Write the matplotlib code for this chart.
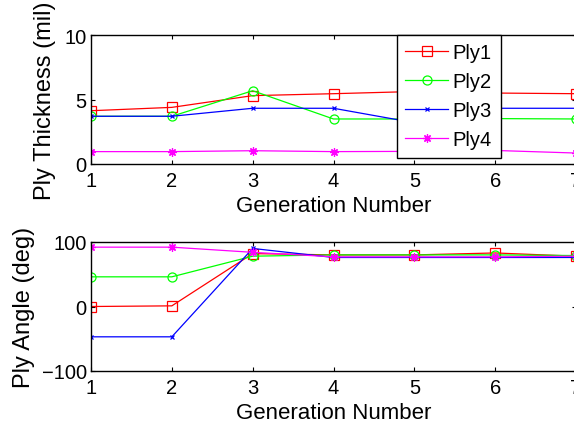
import matplotlib
matplotlib.use("Agg")
import matplotlib.pyplot as plt

plt.rcParams['font.family'] = ['Liberation Sans', 'DejaVu Sans']

generations = [1, 2, 3, 4, 5, 6, 7]
series_names = ["Ply1", "Ply2", "Ply3", "Ply4"]

thick_ply1 = [4.13, 4.39, 5.30, 5.45, 5.62, 5.50, 5.45]
thick_ply2 = [3.70, 3.70, 5.68, 3.49, 3.49, 3.52, 3.49]
thick_ply3 = [3.70, 3.70, 4.32, 4.32, 3.20, 4.32, 4.32]
thick_ply4 = [0.96, 0.96, 1.03, 0.96, 0.98, 1.05, 0.85]

angle_ply1 = [0, 1, 82, 80, 80, 83, 78]
angle_ply2 = [46, 46, 78, 80, 80, 80, 79]
angle_ply3 = [-47, -47, 90, 76, 76, 76, 76]
angle_ply4 = [92, 92, 84, 77, 77, 77, 78]

colors = ["#ff0000", "#00ff00", "#0000ff", "#ff00ff"]
markers = ["s", "o", "x", (8, 2, 0)]
msizes = [6.5, 6.5, 3.5, 6]

fig = plt.figure(figsize=(5.74, 4.27), dpi=100)
W, H = 574.0, 427.0
left = 91 / W
width = (576 - 91) / W
ax1 = fig.add_axes([left, 1 - 165 / H, width, 129 / H])
ax2 = fig.add_axes([left, 1 - 372 / H, width, 129 / H])

thick = [thick_ply1, thick_ply2, thick_ply3, thick_ply4]
angle = [angle_ply1, angle_ply2, angle_ply3, angle_ply4]

for ax, data in ((ax1, thick), (ax2, angle)):
    for name, vals, c, m, ms in zip(series_names, data, colors, markers, msizes):
        ax.plot(generations, vals, color=c, marker=m, markersize=ms,
                markerfacecolor='none', markeredgecolor=c, linewidth=0.9,
                markeredgewidth=0.9, label=name)
    ax.set_xlim(1, 7)
    ax.set_xticks(generations)
    ax.tick_params(direction='in', top=True, right=True, length=3,
                   labelsize=14.5, width=0.8)
    ax.tick_params(axis='x', pad=5)
    ax.tick_params(axis='y', pad=3)
    for s in ax.spines.values():
        s.set_linewidth(1.0)
    ax.set_xlabel("Generation Number", fontsize=16, labelpad=4)

ax1.set_ylim(0, 10)
ax1.set_yticks([0, 5, 10])
ax1.set_ylabel("Ply Thickness (mil)", fontsize=17, labelpad=6)
ax2.set_ylim(-100, 100)
ax2.set_yticks([-100, 0, 100])
ax2.set_ylabel("Ply Angle (deg)", fontsize=17, labelpad=5)

leg = ax1.legend(loc='upper left', bbox_to_anchor=(0.631, 1.0), fontsize=14.5,
                 frameon=True, fancybox=False, edgecolor='black',
                 handlelength=2.1, handletextpad=0.25, labelspacing=0.49,
                 borderpad=0.42, borderaxespad=0)
leg.get_frame().set_linewidth(1.0)
leg.get_frame().set_alpha(1)

fig.savefig("out.png", dpi=100)
